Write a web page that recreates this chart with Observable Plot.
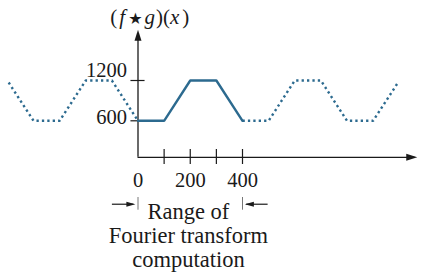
<!DOCTYPE html>
<html><head><meta charset="utf-8">
<script src="https://cdn.jsdelivr.net/npm/d3@7"></script>
<script src="https://cdn.jsdelivr.net/npm/@observablehq/plot@0.6"></script>
<style>body{margin:0;background:#fff}</style>
</head><body><div id="chart"></div>
<script>
// Data: periodic correlation (f★g)(x), period 400
const solidX = [0, 100, 200, 300, 400];
const solidY = [600, 600, 1200, 1200, 600];
const leftX = [-495, -400, -300, -200, -100, 0];
const leftY = [1170, 600, 600, 1200, 1200, 600];
const rightX = [400, 500, 600, 700, 800, 900, 992];
const rightY = [600, 600, 1200, 1200, 600, 600, 1150];
const xTickValues = [100, 200, 300, 400];
const xLabelValues = [0, 200, 400];
const xTickLabels = ["0", "200", "400"];
const yTickValues = [600, 1200];
const yTickLabels = ["600", "1200"];
const titleText = "(f★g)(x)";
const captionText = "Range of\nFourier transform\ncomputation";
const rangeStart = 0, rangeEnd = 400;

const color = "#2c6a8f";
const ink = "#1a1a1a";
const axisY0 = 56;

function head(angleDeg, L, W) {
  const a = angleDeg * Math.PI / 180, c = Math.cos(a), s = Math.sin(a);
  const pts = [[0, 0], [-L, -W / 2], [-L, W / 2]].map(([x, y]) => [x * c - y * s, x * s + y * c]);
  return {draw(ctx) { ctx.moveTo(pts[0][0], pts[0][1]); ctx.lineTo(pts[1][0], pts[1][1]); ctx.lineTo(pts[2][0], pts[2][1]); ctx.closePath(); }};
}
const pts = (xs, ys) => xs.map((x, i) => ({x, y: ys[i]}));
const lineStyle = {x: "x", y: "y", stroke: color, strokeWidth: 2.4, strokeLinejoin: "miter"};
const serif = "'Liberation Serif', 'Times New Roman', serif";

const plot = Plot.plot({
  width: 422, height: 274, margin: 0,
  x: {domain: [0, 400], range: [137.5, 242], axis: null},
  y: {domain: [600, 1200], range: [120.3, 80], axis: null},
  style: {fontFamily: serif, background: "#fff", overflow: "visible"},
  marks: [
    // axes
    Plot.ruleX([0], {y1: axisY0, y2: 1800, stroke: ink, strokeWidth: 1.3}),
    Plot.ruleY([axisY0], {x1: 0, x2: 1060, stroke: ink, strokeWidth: 1.3}),
    Plot.dot([{x: 0, y: 1955}], {x: "x", y: "y", symbol: head(-90, 11, 7), fill: ink, stroke: "none"}),
    Plot.dot([{x: 1069, y: axisY0}], {x: "x", y: "y", symbol: head(0, 11, 7), fill: ink, stroke: "none"}),
    Plot.ruleX(xTickValues, {y1: -51, y2: 173, stroke: ink, strokeWidth: 1.2}),
    Plot.ruleY(yTickValues, {x1: -27, x2: 27, stroke: ink, strokeWidth: 1.2}),
    // tick labels
    Plot.text(xLabelValues, {x: d => d, y: axisY0, text: (d, i) => xTickLabels[i], dy: 23, fontSize: 20.5, fill: ink, textAnchor: "middle"}),
    Plot.text([yTickValues[1]], {x: -42, y: d => d, text: [yTickLabels[1]], dy: -10, fontSize: 20.5, fill: ink, textAnchor: "end"}),
    Plot.text([yTickValues[0]], {x: -42, y: d => d, text: [yTickLabels[0]], dy: -3, fontSize: 20.5, fill: ink, textAnchor: "end"}),
    // curve
    Plot.line(pts(leftX, leftY), {...lineStyle, strokeDasharray: "2.3 3.1", strokeLinecap: "butt"}),
    Plot.line(pts(rightX, rightY), {...lineStyle, strokeDasharray: "2.3 3.1", strokeLinecap: "butt"}),
    Plot.line(pts(solidX, solidY), lineStyle),
    // title
    Plot.text([titleText], {x: -106, y: 2140, text: d => d, fontSize: 21, fill: ink, textAnchor: "start"}),
    // range annotation
    Plot.ruleX([rangeStart, rangeEnd], {y1: -542, y2: -731, stroke: "#777", strokeWidth: 1}),
    Plot.ruleY([-642], {x1: -98, x2: -16, stroke: ink, strokeWidth: 1.2}),
    Plot.ruleY([-642], {x1: 498, x2: 416, stroke: ink, strokeWidth: 1.2}),
    Plot.dot([{x: -10, y: -642}], {x: "x", y: "y", symbol: head(0, 9, 5), fill: ink, stroke: "none"}),
    Plot.dot([{x: 409, y: -642}], {x: "x", y: "y", symbol: head(180, 9, 5), fill: ink, stroke: "none"}),
    Plot.text([captionText], {x: 193, y: -1102, text: d => d, fontSize: 22.5, lineHeight: 1.07, fill: ink, textAnchor: "middle"})
  ]
});
document.getElementById("chart").appendChild(plot);

// italicize variables in the title
plot.querySelectorAll("text").forEach(t => {
  if (t.textContent === titleText) {
    t.textContent = "";
    const parts = [["(", false, 0], ["f", true, 2], ["★", false, 3], ["g", true, 2], [")", false, 1], ["(", false, 0], ["x", true, 0], [")", false, 3]];
    for (const [s, it, dx] of parts) {
      const ts = document.createElementNS("http://www.w3.org/2000/svg", "tspan");
      ts.textContent = s;
      if (it) ts.setAttribute("font-style", "italic");
      if (dx) ts.setAttribute("dx", dx);
      if (s === "★") { ts.setAttribute("font-family", "DejaVu Sans"); ts.setAttribute("font-size", "16"); }
      t.appendChild(ts);
    }
  }
});
</script>
</body></html>
